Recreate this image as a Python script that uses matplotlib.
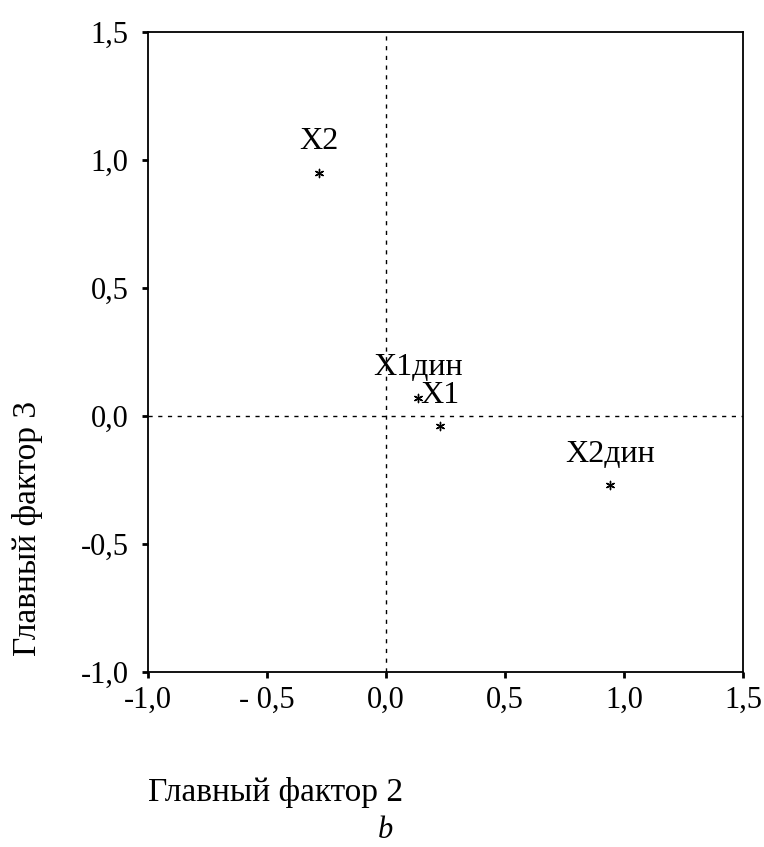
import matplotlib
matplotlib.use("Agg")
import matplotlib.pyplot as plt

# component loadings (factor 2 vs factor 3)
labels = ["X2", "X1дин", "X1", "X2дин"]
factor2 = [-0.28, 0.134, 0.227, 0.94]
factor3 = [0.95, 0.07, -0.04, -0.27]

ticks = [-1.0, -0.5, 0.0, 0.5, 1.0, 1.5]
x_tick_labels = ["-1,0", "- 0,5", "0,0", "0,5", "1,0", "1,5"]
y_tick_labels = ["-1,0", "-0,5", "0,0", "0,5", "1,0", "1,5"]

plt.rcParams['font.family'] = ['Liberation Serif', 'DejaVu Serif']

fig = plt.figure(figsize=(7.64, 8.47), dpi=100)
ax = fig.add_axes([148 / 764, 1 - 672 / 847, 595 / 764, 640 / 847])

ax.axhline(0, color='black', linestyle=(0, (3, 4)), linewidth=1)
ax.axvline(0, color='black', linestyle=(0, (3, 4)), linewidth=1)

ax.scatter(factor2, factor3, marker=(6, 2, 0), s=35, color='black', linewidths=1, zorder=3)
for lab, x, y in zip(labels, factor2, factor3):
    ax.annotate(lab, (x, y), xytext=(0, 31), textcoords='offset pixels',
                ha='center', va='center', fontsize=23)

ax.set_xlim(-1, 1.5)
ax.set_ylim(-1, 1.5)
ax.set_xticks(ticks)
ax.set_xticklabels(x_tick_labels)
ax.set_yticks(ticks)
ax.set_yticklabels(y_tick_labels)
ax.tick_params(direction='out', length=4, width=2, labelsize=22)
ax.tick_params(axis='y', pad=10)
ax.tick_params(axis='x', pad=6)
for s in ax.spines.values():
    s.set_linewidth(1.3)

fig.text(148 / 764, 1 - 792 / 847, "Главный фактор 2", fontsize=24, ha='left', va='center')
fig.text(28 / 764, 1 - 528 / 847, "Главный фактор 3", fontsize=24, rotation=90,
         ha='center', va='center')
fig.text(385 / 764, 1 - 830 / 847, "b", fontsize=22, style='italic', ha='center', va='center')

fig.savefig("out.png", dpi=100)
